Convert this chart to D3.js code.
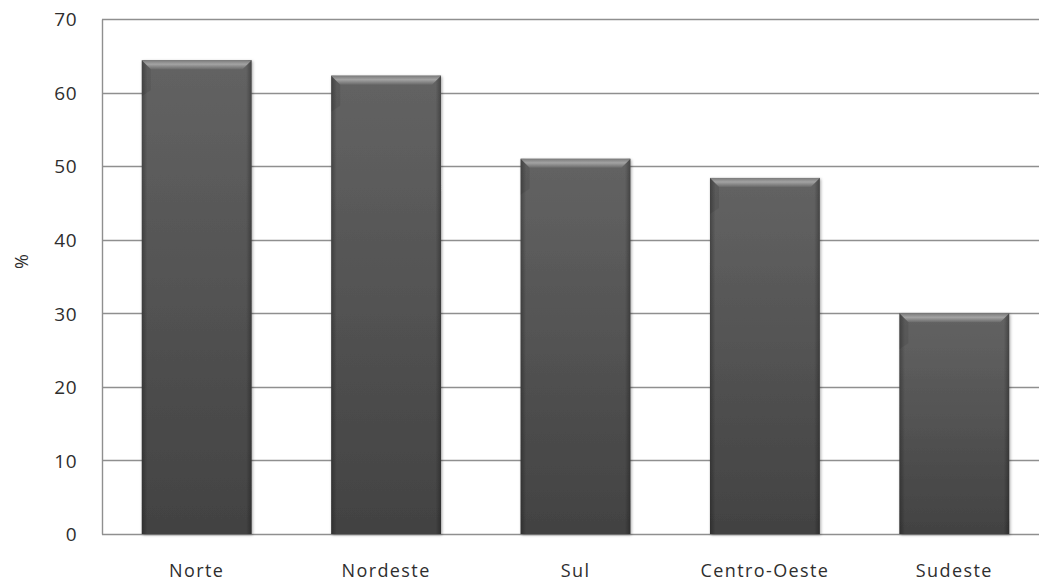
<!DOCTYPE html>
<html>
<head>
<meta charset="utf-8">
<script src="https://cdn.jsdelivr.net/npm/d3@7"></script>
<style>
  html, body { margin: 0; padding: 0; background: #fff; }
  svg { display: block; }
  text { font-family: "Open Sans", "DejaVu Sans", sans-serif; fill: #2e2e2e; }
</style>
</head>
<body>
<svg id="chart" width="1039" height="582"></svg>
<script>
// Share by region, in percent
const regions = ["Norte", "Nordeste", "Sul", "Centro-Oeste", "Sudeste"];
const shares = [64.4, 62.3, 51.0, 48.4, 30.0];
const yTicks = [0, 10, 20, 30, 40, 50, 60, 70];

const svg = d3.select("#chart");
const margin = { left: 102, right: -10, top: 19, bottom: 48 };
const W = 1039, H = 582;

const x = d3.scaleBand()
  .domain(regions)
  .range([margin.left, W - margin.right])
  .paddingInner(0.42)
  .paddingOuter(0.21);

const y = d3.scaleLinear()
  .domain([0, 70])
  .range([H - margin.bottom, margin.top]);

const defs = svg.append("defs");

// body shading: darker toward bottom
const body = defs.append("linearGradient").attr("id", "barBody")
  .attr("x1", 0).attr("y1", 0).attr("x2", 0).attr("y2", 1);
body.append("stop").attr("offset", "0%").attr("stop-color", "#636363");
body.append("stop").attr("offset", "100%").attr("stop-color", "#424242");

// darker rim on left and right sides
const sides = defs.append("linearGradient").attr("id", "barSides")
  .attr("x1", 0).attr("y1", 0).attr("x2", 1).attr("y2", 0);
sides.append("stop").attr("offset", "0%").attr("stop-color", "#000").attr("stop-opacity", 0.28);
sides.append("stop").attr("offset", "5%").attr("stop-color", "#000").attr("stop-opacity", 0.0);
sides.append("stop").attr("offset", "95%").attr("stop-color", "#000").attr("stop-opacity", 0.0);
sides.append("stop").attr("offset", "100%").attr("stop-color", "#000").attr("stop-opacity", 0.3);

// bevelled top edge
const bevel = defs.append("linearGradient").attr("id", "barBevel")
  .attr("x1", 0).attr("y1", 0).attr("x2", 0).attr("y2", 1);
bevel.append("stop").attr("offset", "0%").attr("stop-color", "#7a7a7a");
bevel.append("stop").attr("offset", "45%").attr("stop-color", "#a3a3a3");
bevel.append("stop").attr("offset", "100%").attr("stop-color", "#6a6a6a");

const shadow = defs.append("filter").attr("id", "barShadow")
  .attr("x", "-10%").attr("y", "-10%").attr("width", "120%").attr("height", "120%");
shadow.append("feDropShadow").attr("dx", 1).attr("dy", 1).attr("stdDeviation", 1.6)
  .attr("flood-color", "#000").attr("flood-opacity", 0.35);

// gridlines
svg.append("g")
  .selectAll("line")
  .data(yTicks.filter(t => t > 0))
  .join("line")
  .attr("x1", margin.left).attr("x2", W)
  .attr("y1", d => Math.round(y(d)) + 0.5).attr("y2", d => Math.round(y(d)) + 0.5)
  .attr("stroke", "#8f8f8f").attr("stroke-width", 1.4);

// y axis
const yAxis = svg.append("g")
  .attr("transform", `translate(${margin.left},0)`)
  .call(d3.axisLeft(y).tickValues(yTicks).tickSize(0).tickPadding(25));
yAxis.select(".domain").attr("stroke", "#8f8f8f").attr("stroke-width", 1.4);
yAxis.selectAll("text").style("font-size", "19px").style("letter-spacing", "0.5px")
  .attr("fill", "#2e2e2e").attr("dy", "0.36em");

// baseline
svg.append("line")
  .attr("x1", margin.left).attr("x2", W)
  .attr("y1", Math.round(y(0)) + 0.5).attr("y2", Math.round(y(0)) + 0.5)
  .attr("stroke", "#8f8f8f").attr("stroke-width", 1.4);

// bars
const bars = svg.append("g")
  .selectAll("g")
  .data(regions.map((r, i) => ({ region: r, value: shares[i] })))
  .join("g");

bars.append("rect")
  .attr("x", d => x(d.region))
  .attr("y", d => y(d.value))
  .attr("width", x.bandwidth())
  .attr("height", d => y(0) - y(d.value))
  .attr("fill", "url(#barBody)")
  .attr("filter", "url(#barShadow)");

bars.append("rect")
  .attr("x", d => x(d.region))
  .attr("y", d => y(d.value))
  .attr("width", x.bandwidth())
  .attr("height", d => y(0) - y(d.value))
  .attr("fill", "url(#barSides)");

const bev = 9;
bars.append("path")
  .attr("d", d => {
    const x0 = x(d.region), x1 = x0 + x.bandwidth(), t = y(d.value);
    return `M${x0},${t}L${x1},${t}L${x1 - bev},${t + bev}L${x0 + bev},${t + bev}Z`;
  })
  .attr("fill", "url(#barBevel)");

bars.append("path")
  .attr("d", d => {
    const x0 = x(d.region), t = y(d.value);
    return `M${x0},${t}L${x0 + bev},${t + bev}L${x0 + bev},${t + 30}L${x0},${t + 36}Z`;
  })
  .attr("fill", "#000").attr("opacity", 0.08);

// category labels
svg.append("g")
  .selectAll("text")
  .data(regions)
  .join("text")
  .attr("x", d => x(d) + x.bandwidth() / 2)
  .attr("y", H - 5)
  .attr("text-anchor", "middle")
  .style("font-size", "18px")
  .style("letter-spacing", "1.4px")
  .text(d => d);

// y axis title
svg.append("text")
  .attr("transform", `translate(28,${(y(70) + y(0)) / 2 - 15}) rotate(-90)`)
  .attr("text-anchor", "middle")
  .style("font-size", "18px")
  .text("%");
</script>
</body>
</html>
